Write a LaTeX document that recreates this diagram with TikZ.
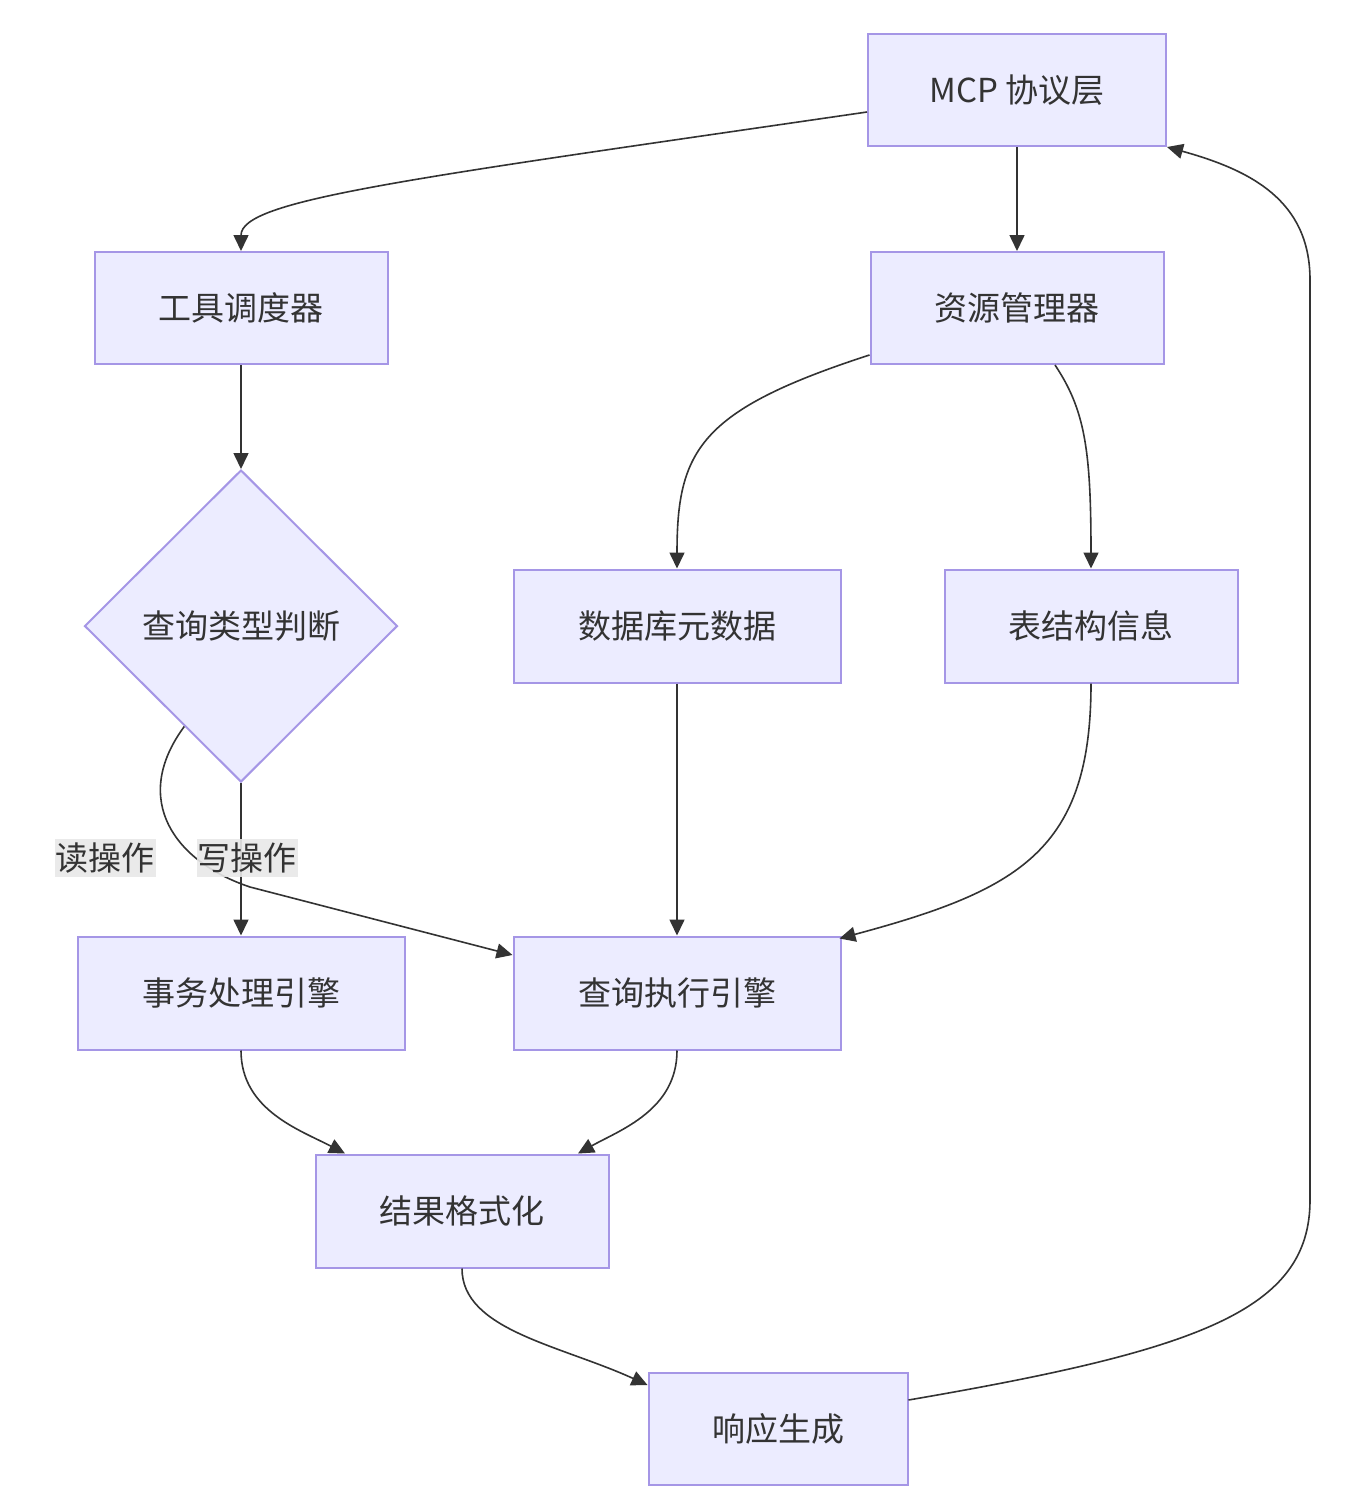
\documentclass[tikz,border=0pt]{standalone}
\usepackage{fontspec}
\setmainfont{Noto Sans CJK SC}
\usetikzlibrary{shapes.geometric,arrows.meta,calc}
\definecolor{nodefill}{HTML}{ECECFF}
\definecolor{nodeborder}{HTML}{A596E6}
\definecolor{txtc}{HTML}{333333}
\definecolor{edgec}{HTML}{333333}
\definecolor{lblbg}{HTML}{E8E8E8}
\begin{document}
\begin{tikzpicture}[x=1pt,y=-1pt,
  box/.style={draw=nodeborder, fill=nodefill, line width=2pt, text=txtc,
    font=\fontsize{33}{39}\selectfont, inner sep=0pt},
  decision/.style={box, diamond, aspect=1},
  flow/.style={draw=edgec, line width=1.6pt, -{Triangle[length=16pt,width=15pt]}},
  elabel/.style={fill=lblbg, fill opacity=0.9, text opacity=1, text=txtc,
    font=\fontsize{33}{39}\selectfont, inner xsep=1pt, inner ysep=4pt}]
\useasboundingbox (0,0) rectangle (1365,1505);
\fill[white] (0,0) rectangle (1365,1505);

\node[box, minimum width=298pt, minimum height=112pt] (mcp) at (1017,90) {MCP 协议层};
\node[box, minimum width=293pt, minimum height=112pt] (tool) at (241,308) {工具调度器};
\node[box, minimum width=293pt, minimum height=112pt] (res) at (1017,308) {资源管理器};
\node[decision, minimum width=313pt, minimum height=312pt] (q) at (241,626) {查询类型判断};
\node[box, minimum width=327pt, minimum height=113pt] (meta) at (677,626) {数据库元数据};
\node[box, minimum width=293pt, minimum height=113pt] (tbl) at (1091,626) {表结构信息};
\node[box, minimum width=327pt, minimum height=113pt] (tx) at (241,993) {事务处理引擎};
\node[box, minimum width=327pt, minimum height=113pt] (exec) at (677,993) {查询执行引擎};
\node[box, minimum width=293pt, minimum height=113pt] (fmt) at (462,1211) {结果格式化};
\node[box, minimum width=259pt, minimum height=112pt] (resp) at (778,1429) {响应生成};

% edges
\draw[flow] ([yshift=-22pt]mcp.west) .. controls (400,180) and (241,200) .. (tool.north);
\draw[flow] (mcp.south) -- (res.north);
\draw[flow] (tool.south) -- (q.north);
\draw[flow] ([yshift=-47pt]res.west) .. controls (700,410) and (677,450) .. (meta.north);
\draw[flow] ([xshift=38pt]res.south) .. controls (1085,410) and (1091,450) .. (tbl.north);
\draw[flow] ($(q.west)!0.64!(q.south)$) .. controls (130,800) and (175,862) .. (250,887) -- ([yshift=38pt]exec.west);
\draw[flow] (q.south) -- (tx.north);
\draw[flow] (meta.south) -- (exec.north);
\draw[flow] (tbl.south) .. controls (1091,850) and (1020,890) .. ([xshift=-2pt,yshift=-3pt]exec.north east);
\draw[flow] (tx.south) .. controls (241,1110) and (300,1130) .. ([xshift=-117pt]fmt.north);
\draw[flow] (exec.south) .. controls (677,1110) and (620,1130) .. ([xshift=116pt]fmt.north);
\draw[flow] (fmt.south) .. controls (462,1330) and (560,1345) .. ([yshift=44pt]resp.west);
\draw[flow] ([yshift=29pt]resp.east) .. controls (1200,1350) and (1310,1310) .. (1310,1200)
  -- (1310,280) .. controls (1310,200) and (1250,170) .. (mcp.south east);

% edge labels
\node[elabel] (lread) at (105,858) {读操作};
\node[elabel] (lwrite) at (247,858) {写操作};
\end{tikzpicture}
\end{document}
